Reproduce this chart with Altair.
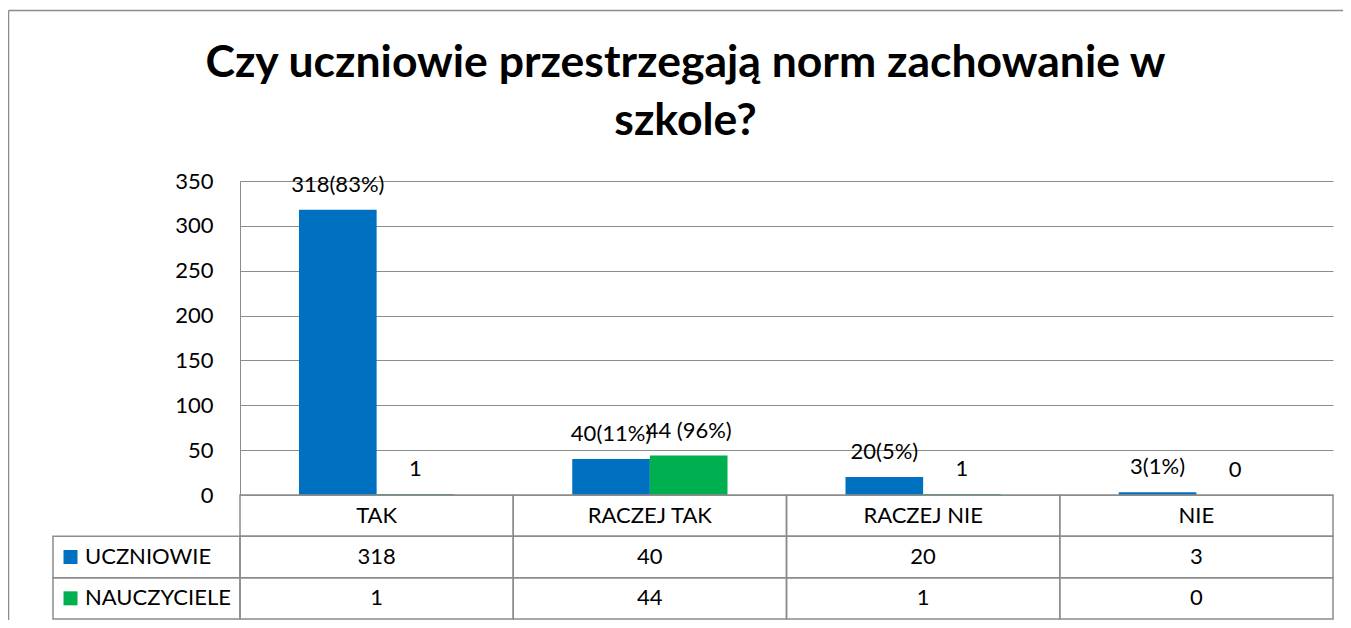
import altair as alt
import pandas as pd

# ---------------- data ----------------
categories = ["TAK", "RACZEJ TAK", "RACZEJ NIE", "NIE"]
series_names = ["UCZNIOWIE", "NAUCZYCIELE"]
uczniowie = [318, 40, 20, 3]
nauczyciele = [1, 44, 1, 0]
labels_uczniowie = ["318(83%)", "40(11%)", "20(5%)", "3(1%)"]
labels_nauczyciele = ["1", "44 (96%)", "1", "0"]
series_colors = ["#0070C0", "#00B050"]
y_ticks = [0, 50, 100, 150, 200, 250, 300, 350]
title_lines = ["Czy uczniowie przestrzegają norm zachowanie w", "szkole?"]

# ---------------- layout / style ----------------
FONT = "Lato"
GRID = "#8c8c8c"
W = 1093          # plot width (category columns)
H_BARS = 314      # height of the bar area
H = 438           # bar area + data table
ROW_KEYS = ["header"] + series_names
LEG_W = 187       # width of the legend column of the data table

rows = []
for s, vals, labs in [
    (series_names[0], uczniowie, labels_uczniowie),
    (series_names[1], nauczyciele, labels_nauczyciele),
]:
    for c, v, l in zip(categories, vals, labs):
        rows.append({"cat": c, "series": s, "value": v, "label": l})
bars_df = pd.DataFrame(rows)

table_rows = [{"cat": c, "row": "header", "text": c} for c in categories]
for r in rows:
    table_rows.append({"cat": r["cat"], "row": r["series"], "text": str(r["value"])})
table_df = pd.DataFrame(table_rows)

legend_df = pd.DataFrame({"col": ["legend"] * len(series_names),
                          "row": series_names, "series": series_names})

# ---------------- encodings ----------------
x_cat = alt.X("cat:N", sort=categories,
              scale=alt.Scale(domain=categories, paddingInner=0, paddingOuter=0),
              axis=None)
x_off = alt.XOffset("series:N", sort=series_names,
                    scale=alt.Scale(domain=series_names, paddingInner=0, paddingOuter=0.76))
y_val = alt.Y("value:Q",
              scale=alt.Scale(domain=[0, 350], range=[H_BARS, 0], nice=False),
              axis=alt.Axis(values=y_ticks, title=None, grid=True, gridColor=GRID,
                            gridWidth=1, domainColor=GRID, domainWidth=1, ticks=False,
                            labelPadding=27, labelFont=FONT, labelFontSize=22,
                            labelColor="black"))
color = alt.Color("series:N", scale=alt.Scale(domain=series_names, range=series_colors),
                  legend=None)
y_row = alt.Y("row:N", sort=ROW_KEYS,
              scale=alt.Scale(domain=ROW_KEYS, range=[H_BARS, H], paddingInner=0,
                              paddingOuter=0),
              axis=None)

bars = alt.Chart(bars_df).mark_bar().encode(x=x_cat, xOffset=x_off, y=y_val, color=color)
bar_labels = alt.Chart(bars_df).mark_text(
    baseline="alphabetic", dy=-18, font=FONT, fontSize=22, color="black"
).encode(x=x_cat, xOffset=x_off, y=y_val, text="label:N")

cells = alt.Chart(table_df).mark_rect(fillOpacity=0, stroke=GRID, strokeWidth=1.5).encode(
    x=x_cat, y=y_row)
cell_text = alt.Chart(table_df).mark_text(
    baseline="middle", font=FONT, fontSize=22, color="black"
).encode(x=x_cat, y=y_row, text="text:N")

main = alt.layer(alt.layer(bars, bar_labels),
                 alt.layer(cells, cell_text)).resolve_scale(y="independent")

leg_scale = alt.Scale(domain=["legend"], range=[-LEG_W, 0], paddingInner=0, paddingOuter=0)
leg_cells = alt.Chart(legend_df).mark_rect(fillOpacity=0, stroke=GRID, strokeWidth=1.5).encode(
    x=alt.X("col:N", scale=leg_scale, axis=None), y=y_row)
leg_squares = alt.Chart(legend_df).mark_point(
    shape="square", filled=True, size=196, opacity=1
).encode(x=alt.X("col:N", bandPosition=17.5 / LEG_W, scale=leg_scale, axis=None),
         y=y_row, color=color)
leg_text = alt.Chart(legend_df).mark_text(
    align="left", baseline="middle", font=FONT, fontSize=22, color="black"
).encode(x=alt.X("col:N", bandPosition=32 / LEG_W, scale=leg_scale, axis=None),
         y=y_row, text="row:N")
legend_group = alt.layer(leg_cells, leg_squares, leg_text)

one = pd.DataFrame({"k": [0]})
frame_left = alt.Chart(one).mark_rule(color=GRID, strokeWidth=1.5).encode(
    x=alt.value(-231.5), y=alt.value(-170.5), y2=alt.value(H + 10))
frame_top = alt.Chart(one).mark_rule(color=GRID, strokeWidth=1.5).encode(
    x=alt.value(-231.5), x2=alt.value(W + 30), y=alt.value(-170.5))

chart = alt.layer(main, legend_group, frame_left, frame_top).resolve_scale(
    x="independent", y="independent"
).properties(
    width=W, height=H,
    title=alt.TitleParams(text=title_lines, font=FONT, fontSize=44.5, fontWeight="bold",
                          color="black", anchor="middle", frame="group", dx=-101,
                          offset=0, dy=179, lineHeight=58, baseline="bottom"),
    autosize=alt.AutoSizeParams(type="none"),
    padding={"left": 232, "top": 173, "right": 10, "bottom": 1},
).configure_view(strokeWidth=0)

chart.save("out.html", embed_options={"renderer": "svg", "actions": False})
